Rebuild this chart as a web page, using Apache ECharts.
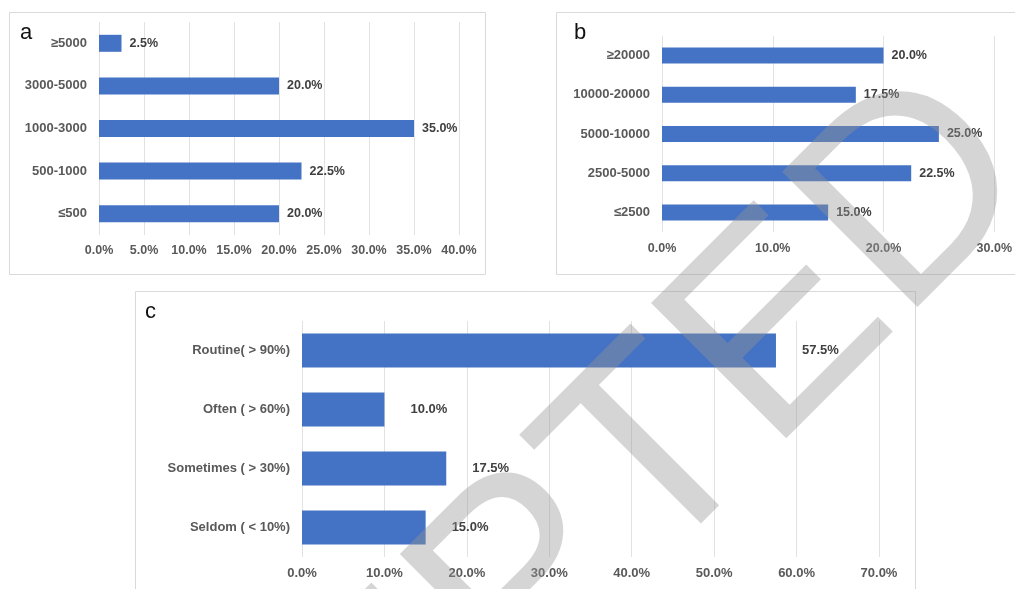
<!DOCTYPE html>
<html>
<head>
<meta charset="utf-8">
<script src="https://cdn.jsdelivr.net/npm/echarts@6/dist/echarts.min.js"></script>
<style>
html,body{margin:0;padding:0;background:#fff;}
#chart{width:1015px;height:589px;}
</style>
</head>
<body>
<div id="chart"></div>
<script>
// ---- data ----
const catsA = ['≤500', '500-1000', '1000-3000', '3000-5000', '≥5000'];
const valsA = [20, 22.5, 35, 20, 2.5];
const ticksA = { min: 0, max: 40, interval: 5 };

const catsB = ['≤2500', '2500-5000', '5000-10000', '10000-20000', '≥20000'];
const valsB = [15, 22.5, 25, 17.5, 20];
const ticksB = { min: 0, max: 30, interval: 10 };

const catsC = ['Seldom ( < 10%)', 'Sometimes ( > 30%)', 'Often ( > 60%)', 'Routine( > 90%)'];
const valsC = [15, 17.5, 10, 57.5];
const ticksC = { min: 0, max: 70, interval: 10 };

const panelLetters = ['a', 'b', 'c'];
const watermark = 'ACCEPTED';

// ---- styles ----
const FONT = "'Liberation Sans', Arial, sans-serif";
const BAR = '#4472C4';
const GRIDLINE = '#e2e2e2';
const LABEL = '#595959';
const VALUE = '#404040';
const pct = v => v.toFixed(1) + '%';

function xAx(i, t, fs, margin) {
  return {
    type: 'value', gridIndex: i, min: t.min, max: t.max, interval: t.interval,
    axisLine: { show: false }, axisTick: { show: false },
    splitLine: { show: true, lineStyle: { color: GRIDLINE, width: 1 } },
    axisLabel: { formatter: pct, color: LABEL, fontSize: fs, fontWeight: 'bold', fontFamily: FONT, margin: margin }
  };
}
function yAx(i, cats, fs) {
  return {
    type: 'category', gridIndex: i, data: cats,
    axisLine: { show: false }, axisTick: { show: false }, splitLine: { show: false },
    axisLabel: { color: LABEL, fontSize: fs, fontWeight: 'bold', fontFamily: FONT, margin: 12 }
  };
}
function ser(i, vals, bw, fs, dist) {
  return {
    type: 'bar', xAxisIndex: i, yAxisIndex: i, data: vals, barWidth: bw,
    itemStyle: { color: BAR }, silent: true,
    label: { show: true, position: 'right', distance: dist, formatter: p => pct(p.value),
             color: VALUE, fontSize: fs, fontWeight: 'bold', fontFamily: FONT }
  };
}

const chart = echarts.init(document.getElementById('chart'), null, { renderer: 'canvas' });
chart.setOption({
  animation: false,
  backgroundColor: '#ffffff',
  grid: [
    { left: 99, top: 22, width: 360, height: 213 },
    { left: 662, top: 36, width: 333, height: 196 },
    { left: 302, top: 321, width: 577, height: 236 }
  ],
  xAxis: [xAx(0, ticksA, 12.5, 9), xAx(1, ticksB, 12.5, 10), xAx(2, ticksC, 13, 10)],
  yAxis: [yAx(0, catsA, 13), yAx(1, catsB, 13), yAx(2, catsC, 13)],
  series: [ser(0, valsA, 17, 12.5, 8), ser(1, valsB, 16, 12.5, 8), ser(2, valsC, 34, 13, 26)],
  graphic: [
    { type: 'rect', z: -10, shape: { x: 9.5, y: 12.5, width: 476, height: 262 }, style: { fill: 'none', stroke: '#d9d9d9', lineWidth: 1 } },
    { type: 'rect', z: -10, shape: { x: 556.5, y: 12.5, width: 470, height: 262 }, style: { fill: 'none', stroke: '#d9d9d9', lineWidth: 1 } },
    { type: 'rect', z: -10, shape: { x: 135.5, y: 291.5, width: 780, height: 320 }, style: { fill: 'none', stroke: '#d9d9d9', lineWidth: 1 } },
    { type: 'text', x: 20, y: 33, style: { text: panelLetters[0], fontSize: 22, fontFamily: FONT, fill: '#111', verticalAlign: 'middle' } },
    { type: 'text', x: 574, y: 33, style: { text: panelLetters[1], fontSize: 22, fontFamily: FONT, fill: '#111', verticalAlign: 'middle' } },
    { type: 'text', x: 145, y: 312, style: { text: panelLetters[2], fontSize: 22, fontFamily: FONT, fill: '#111', verticalAlign: 'middle' } },
    { type: 'text', z: 100, x: 989, y: 127, rotation: Math.PI / 4,
      style: { text: watermark, fontSize: 278, fontFamily: FONT, fill: 'rgba(150,150,150,0.4)', align: 'right', verticalAlign: 'middle' } }
  ]
});
</script>
</body>
</html>
